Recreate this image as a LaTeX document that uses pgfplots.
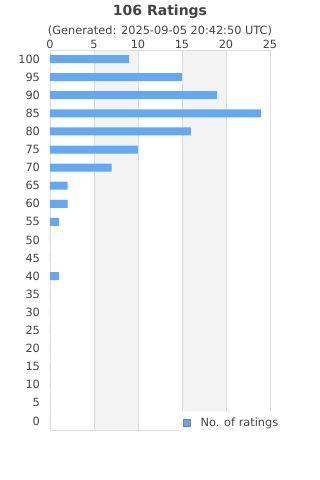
\documentclass[border=0pt]{standalone}
\usepackage{pgfplots}
\pgfplotsset{compat=1.18}
\usepackage{fontspec}
\setmainfont{DejaVu Sans}
\definecolor{barblue}{RGB}{98,168,242}
\definecolor{band}{RGB}{243,243,243}
\definecolor{gridc}{RGB}{221,221,221}
\definecolor{txt}{RGB}{68,68,68}
\begin{document}
\begin{tikzpicture}
\begin{axis}[
  set layers=standard,
  at={(0,0)}, anchor=south west,
  scale only axis, width=165pt, height=285pt,
  xbar, bar width=6pt,
  xmin=0, xmax=25, ymin=-2.5, ymax=102.5,
  xtick={0,5,10,15,20,25},
  ytick={0,5,...,100},
  axis x line*=top,
  xtick pos=upper, ytick pos=left,
  major tick length=0pt,
  xmajorgrids, major grid style={gridc, line width=0.6pt},
  axis line style={gridc, line width=0.6pt},
  tick label style={font=\fontsize{8.5}{10}\selectfont, text=txt},
  /pgf/number format/assume math mode=true,
  xticklabel style={yshift=-2.5pt},
  yticklabel style={xshift=-4pt},
  legend style={at={(0.585,0.05)}, anchor=north west, draw=none, fill=white,
    font=\fontsize{8.5}{10}\selectfont, text=txt, inner xsep=3pt, inner ysep=3pt},
  legend image code/.code={\draw[fill=barblue, draw=gray, line width=0.5pt] (0pt,-2.6pt) rectangle (5.2pt,2.6pt); \path (11pt,0pt);},
  clip=false,
]
\begin{pgfonlayer}{axis background}
\fill[band] (axis cs:5,-2.5) rectangle (axis cs:10,102.5);
\fill[band] (axis cs:15,-2.5) rectangle (axis cs:20,102.5);
\end{pgfonlayer}
\addplot[fill=barblue, draw=none] coordinates {
(0,0) (0,5) (0,10) (0,15) (0,20) (0,25) (0,30) (0,35)
(1,40) (0,45) (0,50) (1,55) (2,60) (2,65) (7,70) (10,75)
(16,80) (24,85) (19,90) (15,95) (9,100)};
\addlegendentry{No. of ratings}
\draw[gridc, line width=0.6pt] (rel axis cs:0,0) -- (rel axis cs:1,0);
\draw[gridc, line width=0.6pt] (rel axis cs:1,0) -- (rel axis cs:1,1);
\node[font=\bfseries\fontsize{10.5}{12}\selectfont, text=txt] at ([yshift=29pt]rel axis cs:0.5,1) {106 Ratings};
\node[font=\fontsize{8.5}{10}\selectfont, text=txt] at ([yshift=14.5pt]rel axis cs:0.5,1) {(Generated: 2025-09-05 20:42:50 UTC)};
\end{axis}
\pgfresetboundingbox
\useasboundingbox (-37.5pt,-37.5pt) rectangle (202.5pt,322.5pt);
\end{tikzpicture}
\end{document}
